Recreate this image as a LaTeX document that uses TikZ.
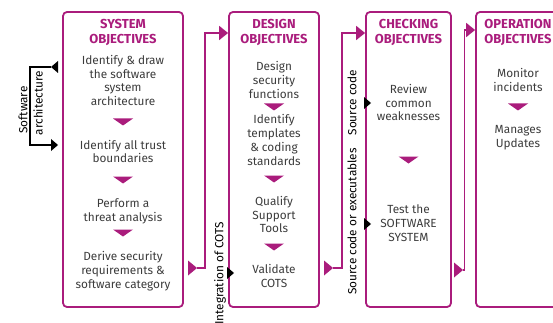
\documentclass[tikz,border=0pt]{standalone}
\usepackage{fontspec}
\setmainfont{Fira Sans}
\usetikzlibrary{arrows.meta}
\definecolor{mag}{RGB}{170,28,124}
\definecolor{txt}{RGB}{60,60,60}
\begin{document}
\begin{tikzpicture}[x=1pt,y=1pt,
  obox/.style={draw=mag, line width=1.8pt, rounded corners=4pt, inner sep=0pt},
  titletext/.style={text=mag, font=\fontsize{13}{15}\selectfont\bfseries, align=center, inner sep=0pt},
  body/.style={text=txt, font=\fontsize{11.8}{13.8}\selectfont, align=center, inner sep=0pt},
  vlab/.style={text=black, font=\fontsize{11.8}{12}\selectfont, rotate=90, inner sep=0pt},
  conn/.style={draw=mag, line width=1.8pt},
  brk/.style={draw=black, line width=1.3pt},
  dtri/.pic={\fill[mag] (-10,3.5) -- (10,3.5) -- (0,-3.5) -- cycle;},
  rtri/.pic={\fill[mag] (0,7.5) -- (9,0) -- (0,-7.5) -- cycle;},
  bR/.pic={\fill[black] (0,6) -- (7,0) -- (0,-6) -- cycle;},
  bL/.pic={\fill[black] (0,6) -- (-7,0) -- (0,-6) -- cycle;},
  tip/.style={-{Triangle[length=9pt,width=14pt]}}
]
\useasboundingbox (0,0) rectangle (553,-323);
\clip (0,0) rectangle (553,-323);

% boxes
\node[obox, minimum width=120pt, minimum height=295pt] (sys) at (123,-159.5) {};
\node[obox, minimum width=90pt, minimum height=295pt] (des) at (274,-159.5) {};
\node[obox, minimum width=85pt, minimum height=295pt] (chk) at (408.5,-159.5) {};
\node[obox, minimum width=94pt, minimum height=295pt] (ope) at (523,-159.5) {};

% system
\node[titletext] (t1) at (123,-32.5) {SYSTEM\\OBJECTIVES};
\node[body] (s1) at (123,-80.5) {Identify \& draw\\the software\\system\\architecture};
\pic at (123,-122) {dtri};
\node[body] (s2) at (123,-151.5) {Identify all trust\\boundaries};
\pic at (123,-180) {dtri};
\node[body] (s3) at (123,-211) {Perform a\\threat analysis};
\pic at (123,-233) {dtri};
\node[body] (s4) at (123,-271) {Derive security\\requirements \&\\software category};

% design
\node[titletext] (t2) at (274,-32.5) {DESIGN\\OBJECTIVES};
\node[body] (d1) at (274,-80) {Design\\security\\functions};
\pic at (274,-107) {dtri};
\node[body] (d2) at (274,-140) {Identify\\templates\\\& coding\\standards};
\pic at (274,-179) {dtri};
\node[body] (d3) at (274,-214.5) {Qualify\\Support\\Tools};
\pic at (274,-247) {dtri};
\node[body] (d4) at (274,-276) {Validate\\COTS};

% checking
\node[titletext] (t3) at (408.5,-32.5) {CHECKING\\OBJECTIVES};
\node[body] (k1) at (408.5,-102.5) {Review\\common\\weaknesses};
\pic at (408.5,-160) {dtri};
\node[body] (k2) at (408.5,-223) {Test the\\SOFTWARE\\SYSTEM};

% operation
\node[titletext] (t4) at (518,-32.5) {OPERATION\\OBJECTIVES};
\node[body] (o1) at (518,-80) {Monitor\\incidents};
\pic at (518,-107) {dtri};
\node[body] (o2) at (518,-138) {Manages\\Updates};

% connector system -> design
\pic at (188,-268) {rtri};
\coordinate (a1) at (197,-268);
\coordinate (a2) at (205,-268);
\coordinate (a3) at (205,-33);
\draw[conn, tip] (a1) -- (a2) -- (a3) -- (des.west |- a3);

% connector design -> checking
\pic at (324,-268) {rtri};
\coordinate (b1) at (333,-268);
\coordinate (b2) at (342,-268);
\coordinate (b3) at (342,-33);
\draw[conn, tip] (b1) -- (b2) -- (b3) -- (chk.west |- b3);

% connector checking -> operation
\pic at (454,-270) {rtri};
\coordinate (c1) at (463,-270);
\coordinate (c2) at (464.5,-270);
\coordinate (c3) at (464.5,-30);
\draw[conn, tip] (c1) -- (c2) -- (c3) -- (ope.west |- c3);

% software architecture bracket
\coordinate (sa1) at (51,-67);
\coordinate (sa2) at (30,-67);
\coordinate (sa3) at (30,-145);
\coordinate (sa4) at (51,-145);
\draw[brk] (sa1) -- (sa2) -- (sa3) -- (sa4);
\pic at (58,-67) {bL};
\pic at (51,-145) {bR};
\node[vlab] (lsw) at (23,-110) {Software};
\node[vlab] (lar) at (38,-103) {architecture};

% black input marks
\pic at (227,-273) {bR};
\pic at (364,-103) {bR};
\pic at (364,-224) {bR};

% vertical labels
\node[vlab, anchor=east] (lcots) at (220,-222) {Integration of COTS};
\node[vlab, anchor=east] (lsrc) at (352,-70) {Source code};
\node[vlab, anchor=east] (lsrx) at (352,-148) {Source code or executables};
\end{tikzpicture}
\end{document}
